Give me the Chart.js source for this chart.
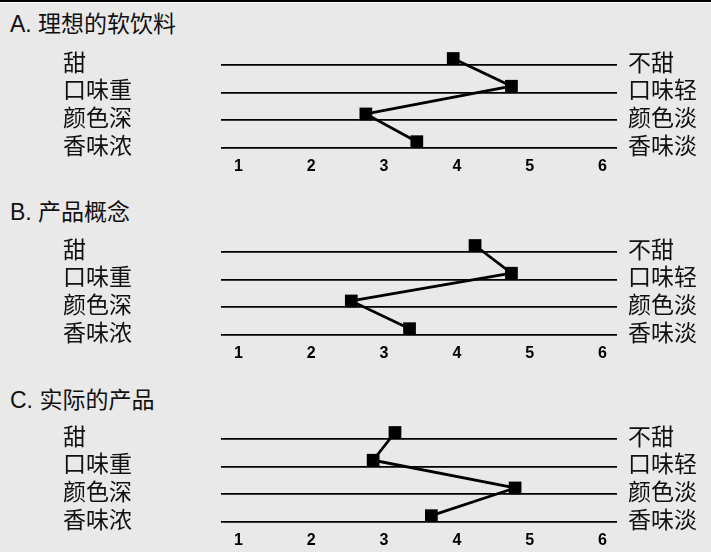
<!DOCTYPE html>
<html>
<head>
<meta charset="utf-8">
<script src="https://cdn.jsdelivr.net/npm/chart.js@4/dist/chart.umd.min.js"></script>
<style>
  html, body { margin:0; padding:0; }
  body { width:711px; height:552px; background:#e9e9e9; position:relative; overflow:hidden; }
  #topbar { position:absolute; left:0; top:0; width:711px; height:2px; background:#000; border-bottom:1px solid #fff; }
  .title { position:absolute; left:10px; font-family:'Liberation Sans','Noto Sans CJK SC',sans-serif; font-size:23px; line-height:24px; color:#111; white-space:nowrap; }
  .panel { position:absolute; left:0; width:711px; height:138px; }
</style>
</head>
<body>
<div id="topbar"></div>
<script>
// ---- data ----
const leftLabels  = ['甜', '口味重', '颜色深', '香味浓'];
const rightLabels = ['不甜', '口味轻', '颜色淡', '香味淡'];
const xTicks = [1, 2, 3, 4, 5, 6];
const panelTitles = ['A. 理想的软饮料', 'B. 产品概念', 'C. 实际的产品'];
const idealValues   = [3.95, 4.75, 2.75, 3.45];
const conceptValues = [4.25, 4.75, 2.55, 3.35];
const actualValues  = [3.15, 2.85, 4.8, 3.65];

// ---- layout (style only) ----
const panelSeries = [idealValues, conceptValues, actualValues];
const panelTops = [40, 227, 414];
const titleTops = [12, 200, 388];

const cjk = "'Noto Sans CJK SC', sans-serif";

const liftMarks = {
  id: 'liftMarks',
  beforeDatasetsDraw(chart) { chart.ctx.save(); chart.ctx.translate(0, -6.3); },
  afterDatasetsDraw(chart) { chart.ctx.restore(); }
};

panelSeries.forEach((values, i) => {
  const t = document.createElement('div');
  t.className = 'title';
  t.style.top = titleTops[i] + 'px';
  t.textContent = panelTitles[i];
  document.body.appendChild(t);

  const wrap = document.createElement('div');
  wrap.className = 'panel';
  wrap.style.top = panelTops[i] + 'px';
  const cv = document.createElement('canvas');
  cv.width = 711; cv.height = 138;
  wrap.appendChild(cv);
  document.body.appendChild(wrap);

  new Chart(cv, {
    type: 'line',
    data: {
      labels: leftLabels,
      datasets: [{
        data: values,
        borderColor: '#000',
        borderWidth: 2.8,
        pointStyle: 'rect',
        pointRadius: 9,
        pointHoverRadius: 9,
        pointBackgroundColor: '#000',
        pointBorderWidth: 0,
        tension: 0,
        clip: false
      }]
    },
    options: {
      indexAxis: 'y',
      responsive: false,
      animation: false,
      devicePixelRatio: 1,
      events: [],
      layout: { padding: { top: 23, left: 63, right: 0, bottom: 0 } },
      plugins: { legend: { display: false }, title: { display: false }, tooltip: { enabled: false } },
      scales: {
        x: {
          type: 'linear', position: 'bottom', min: 0.76, max: 6.2,
          grid: { display: false, drawTicks: false },
          border: { display: false },
          afterBuildTicks(s) { s.ticks = xTicks.map(v => ({ value: v })); },
          ticks: { padding: 9, color: '#000', autoSkip: false, maxRotation: 0,
                   font: { family: "'Liberation Sans', Arial, sans-serif", size: 16, weight: 'bold' },
                   callback: v => String(v) },
          afterFit(s) { s.height = 30; }
        },
        y: {
          type: 'category', position: 'left', offset: false,
          grid: { color: '#000', lineWidth: 1.8, drawTicks: false },
          border: { display: false },
          ticks: { autoSkip: false, crossAlign: 'far', padding: 0, labelOffset: -3, color: '#111', font: { family: cjk, size: 23 } },
          afterFit(s) { s.width = 158; }
        },
        y2: {
          type: 'category', position: 'right', offset: false, labels: rightLabels,
          grid: { display: false, drawTicks: false },
          border: { display: false },
          ticks: { autoSkip: false, padding: 11, labelOffset: -3, color: '#111', font: { family: cjk, size: 23 } },
          afterFit(s) { s.width = 94; }
        }
      }
    },
    plugins: [liftMarks]
  });
});
</script>
</body>
</html>
